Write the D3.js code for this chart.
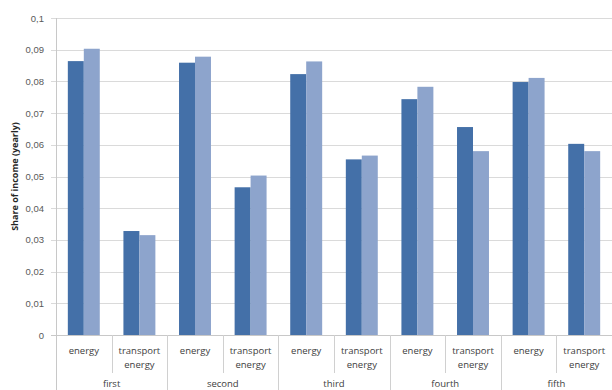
<!DOCTYPE html>
<html>
<head>
<meta charset="utf-8">
<script src="https://cdn.jsdelivr.net/npm/d3@7"></script>
<style>
  html, body { margin: 0; padding: 0; background: #fff; }
  svg { display: block; font-family: "Open Sans", "Liberation Sans", sans-serif; }
</style>
</head>
<body>
<svg id="chart" width="612" height="390"></svg>
<script>
// Income quintiles and the two expenditure items shown for each
const groups = ["first", "second", "third", "fourth", "fifth"];
const items = ["energy", "transport energy"];
const itemLines = { "energy": ["energy"], "transport energy": ["transport", "energy"] };
const seriesNames = ["A", "B"];
// Share of income per quintile/item for the two series
const seriesA = [0.0864, 0.0328, 0.0859, 0.0466, 0.0823, 0.0554, 0.0744, 0.0656, 0.0798, 0.0603];
const seriesB = [0.0903, 0.0315, 0.0878, 0.0503, 0.0863, 0.0566, 0.0783, 0.0580, 0.0811, 0.0580];
const yTicks = [0, 0.01, 0.02, 0.03, 0.04, 0.05, 0.06, 0.07, 0.08, 0.09, 0.1];
const yLabel = "Share of income (yearly)";

const colors = ["#4470a8", "#8da4cc"];

const svg = d3.select("#chart");
const margin = { left: 56, right: 0, top: 18, bottom: 55 };
const W = 612, H = 390;
const plotBottom = H - margin.bottom;

// one slot per (group, item)
const cats = [];
groups.forEach(g => items.forEach(it => cats.push({ group: g, item: it, key: g + "|" + it })));
cats.forEach((c, i) => { c.values = [seriesA[i], seriesB[i]]; });

const x = d3.scaleBand().domain(cats.map(c => c.key)).range([margin.left, W - margin.right]).paddingInner(0).paddingOuter(0);
const xSub = d3.scaleBand().domain(seriesNames).range([0, x.bandwidth()]).paddingInner(0).paddingOuter(0.74);
const y = d3.scaleLinear().domain([0, 0.1]).range([plotBottom, margin.top]);

// gridlines
svg.append("g")
  .selectAll("line").data(yTicks).join("line")
  .attr("x1", margin.left - 5).attr("x2", W)
  .attr("y1", d => Math.round(y(d)) + 0.5).attr("y2", d => Math.round(y(d)) + 0.5)
  .attr("stroke", d => d === 0 ? "#c8c8c8" : "#dadada").attr("stroke-width", 1);

// y-axis
const yAxis = d3.axisLeft(y).tickValues(yTicks).tickSize(0).tickPadding(12)
  .tickFormat(d => d === 0 ? "0" : d3.format(".2~f")(d).replace(".", ","));
const gy = svg.append("g").attr("transform", `translate(${margin.left},0)`).call(yAxis);
gy.select(".domain").remove();
gy.selectAll("text").attr("fill", "#595959").style("font-size", "9.5px");

svg.append("line")
  .attr("x1", margin.left + 0.5).attr("x2", margin.left + 0.5)
  .attr("y1", margin.top).attr("y2", H)
  .attr("stroke", "#c8c8c8");

// bars
const catG = svg.append("g").selectAll("g").data(cats).join("g")
  .attr("transform", d => `translate(${x(d.key)},0)`);
catG.selectAll("rect").data(d => d.values.map((v, i) => ({ v, s: seriesNames[i], i })))
  .join("rect")
  .attr("x", d => xSub(d.s))
  .attr("width", xSub.bandwidth())
  .attr("y", d => y(d.v))
  .attr("height", d => y(0) - y(d.v))
  .attr("fill", d => colors[d.i]);

// category separators and labels
cats.forEach((c, i) => {
  const right = x(c.key) + x.bandwidth();
  const isGroupEnd = (i % items.length) === items.length - 1;
  if (right < W - 1) {
    svg.append("line")
      .attr("x1", Math.round(right) + 0.5).attr("x2", Math.round(right) + 0.5)
      .attr("y1", plotBottom).attr("y2", isGroupEnd ? H : plotBottom + 38)
      .attr("stroke", "#d0d0d0");
  }
  const lines = itemLines[c.item];
  const t = svg.append("text")
    .attr("x", x(c.key) + x.bandwidth() / 2)
    .attr("y", plotBottom + 19)
    .attr("text-anchor", "middle")
    .attr("fill", "#404040")
    .style("font-size", "9.5px");
  lines.forEach((l, k) => t.append("tspan").attr("x", x(c.key) + x.bandwidth() / 2).attr("dy", k === 0 ? 0 : 14).text(l));
});

// group labels
groups.forEach(g => {
  const first = x(g + "|" + items[0]);
  const last = x(g + "|" + items[items.length - 1]) + x.bandwidth();
  svg.append("text")
    .attr("x", (first + last) / 2)
    .attr("y", plotBottom + 52)
    .attr("text-anchor", "middle")
    .attr("fill", "#404040")
    .style("font-size", "9.5px")
    .text(g);
});

// y-axis title
svg.append("text")
  .attr("transform", `translate(18,${(margin.top + plotBottom) / 2}) rotate(-90)`)
  .attr("text-anchor", "middle")
  .attr("fill", "#262626")
  .style("font-size", "9px")
  .style("font-weight", "bold")
  .text(yLabel);
</script>
</body>
</html>
